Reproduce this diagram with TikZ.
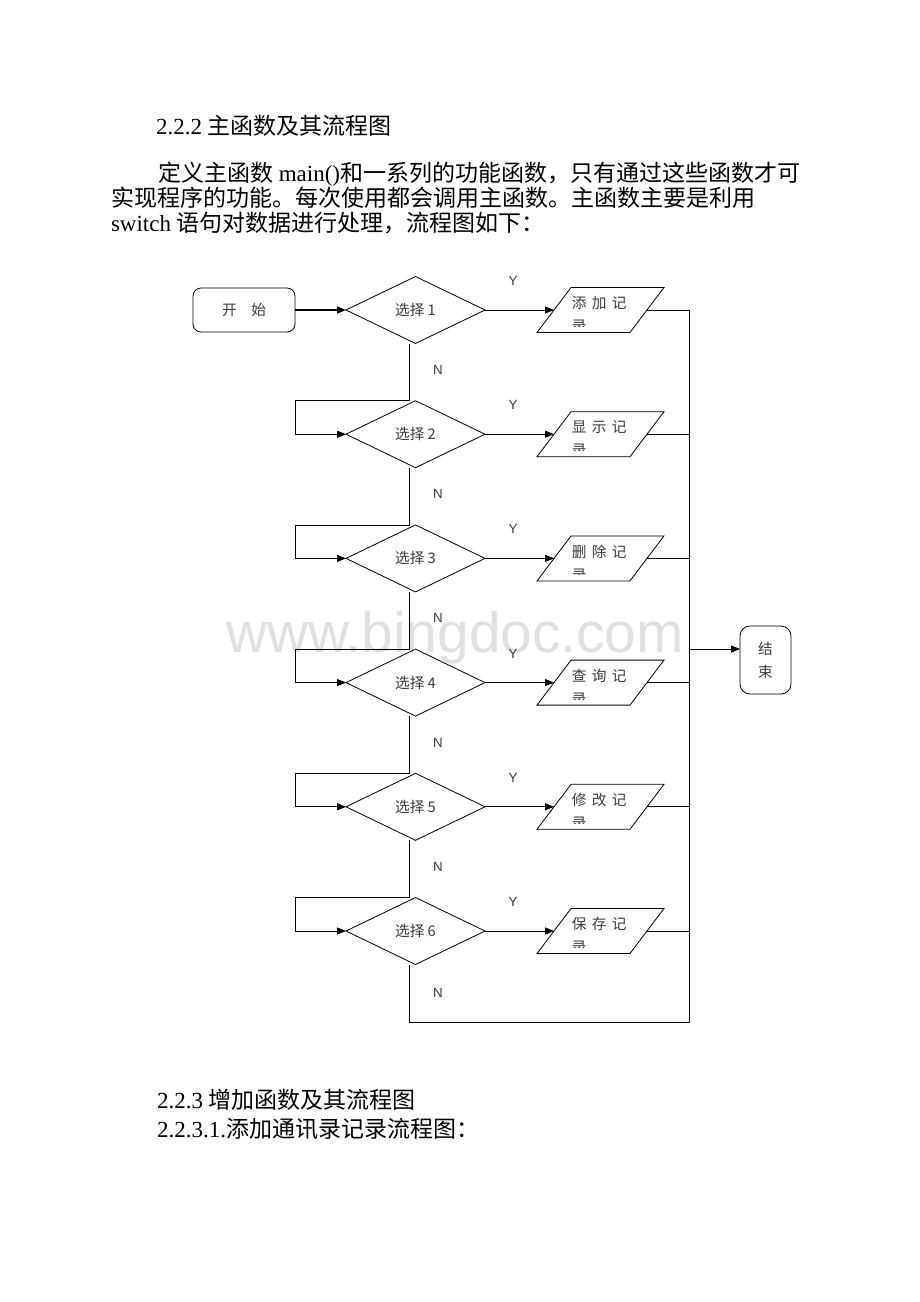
\documentclass[tikz,border=0pt]{standalone}
\usepackage{fontspec}
\usepackage{xcolor}
\usepackage{tikz}
\usetikzlibrary{positioning}
\usetikzlibrary{shapes.geometric,arrows.meta}
\setmainfont{Liberation Serif}
\newfontfamily\cjk{Noto Sans CJK SC}
\newfontfamily\arial{Liberation Sans}
\definecolor{mygray}{RGB}{60,60,60}
\definecolor{mymark}{RGB}{224,224,224}
\newcommand{\gap}{\hspace{4pt}}

\begin{document}
\begin{tikzpicture}[x=0.75pt,y=-0.75pt,outer sep=0pt,line width=0.6pt,
startb/.style={
  draw,
  rounded corners=6pt,
  minimum width=76.5pt,
  minimum height=33pt,
  inner sep=0pt,
  align=center,
  font={\fontsize{11pt}{17.25pt}\cjk\color{mygray}}},
endb/.style={startb,rounded corners=7.5pt,minimum width=38.25pt,minimum height=51pt},
decb/.style={
  draw,
  diamond,
  minimum width=104.25pt,
  minimum height=50.25pt,
  inner sep=0pt,
  font={\fontsize{11pt}{13pt}\cjk\color{mygray}}},
recb/.style={
  draw,
  trapezium,
  trapezium left angle=60,
  trapezium right angle=120,
  trapezium stretches=true,
  minimum width=95.25pt,
  minimum height=33.75pt,
  inner sep=2pt},
rect/.style={anchor=base west,inner sep=0pt,font={\fontsize{11pt}{13pt}\cjk\color{mygray}}},
yn/.style={inner sep=0pt,font={\fontsize{10pt}{12pt}\arial\color{mygray}}},
arr/.style={-{Triangle[length=6.75pt,width=5.25pt]}},
para/.style={anchor=base west,inner sep=0pt,font=\fontsize{17.25pt}{23pt}\selectfont},
]
\fill[white] (0,0) rectangle (920,1302);
\useasboundingbox (0,0) rectangle (920,1302);
% watermark
\node[anchor=base west,inner sep=0pt,font={\fontsize{42.6pt}{48pt}\arial\color{mymark}}] (mark) at (226,652) {www.bingdoc.com};

\node[para] (h1) at (156,135) {2.2.2 {\cjk 主函数及其流程图}};
\node[para] (p1) at (158,181) {{\cjk 定义主函数} main(){\cjk 和一系列的功能函数，只有通过这些函数才可}};
\node[para] (p2) at (111,206) {{\cjk 实现程序的功能。每次使用都会调用主函数。主函数主要是利用}};
\node[para] (p3) at (111,231) {switch {\cjk 语句对数据进行处理，流程图如下：}};

\node[startb] (start) at (244,310) {开\hspace{11pt}始};
\node[decb, right=38.25pt of start] (d1) {选择 1};
\node[decb, below=42.9pt of d1] (d2) {选择 2};
\node[decb, below=42.9pt of d2] (d3) {选择 3};
\node[decb, below=42.9pt of d3] (d4) {选择 4};
\node[decb, below=42.9pt of d4] (d5) {选择 5};
\node[decb, below=42.9pt of d5] (d6) {选择 6};

\coordinate (rx) at (600.5,0);
\node[recb] (rec1) at (d1 -| rx) {};
\node[recb] (rec2) at (d2 -| rx) {};
\node[recb] (rec3) at (d3 -| rx) {};
\node[recb] (rec4) at (d4 -| rx) {};
\node[recb] (rec5) at (d5 -| rx) {};
\node[recb] (rec6) at (d6 -| rx) {};

\node[rect] (t1) at ([xshift=-21.4pt,yshift=1pt]rec1.center) {添\gap 加\gap 记};
\node[rect] (t2) at ([xshift=-21.4pt,yshift=1pt]rec2.center) {显\gap 示\gap 记};
\node[rect] (t3) at ([xshift=-21.4pt,yshift=1pt]rec3.center) {删\gap 除\gap 记};
\node[rect] (t4) at ([xshift=-21.4pt,yshift=1pt]rec4.center) {查\gap 询\gap 记};
\node[rect] (t5) at ([xshift=-21.4pt,yshift=1pt]rec5.center) {修\gap 改\gap 记};
\node[rect] (t6) at ([xshift=-21.4pt,yshift=1pt]rec6.center) {保\gap 存\gap 记};
% second line cut off by the box
\begin{scope}
\clip ([xshift=-30pt]rec1.center) rectangle ([xshift=30pt,yshift=-12.4pt]rec1.center)
      ([xshift=-30pt]rec2.center) rectangle ([xshift=30pt,yshift=-12.4pt]rec2.center)
      ([xshift=-30pt]rec3.center) rectangle ([xshift=30pt,yshift=-12.4pt]rec3.center)
      ([xshift=-30pt]rec4.center) rectangle ([xshift=30pt,yshift=-12.4pt]rec4.center)
      ([xshift=-30pt]rec5.center) rectangle ([xshift=30pt,yshift=-12.4pt]rec5.center)
      ([xshift=-30pt]rec6.center) rectangle ([xshift=30pt,yshift=-12.4pt]rec6.center);
\node[rect] (u1) at ([yshift=-17.25pt]t1.base west) {录};
\node[rect] (u2) at ([yshift=-17.25pt]t2.base west) {录};
\node[rect] (u3) at ([yshift=-17.25pt]t3.base west) {录};
\node[rect] (u4) at ([yshift=-17.25pt]t4.base west) {录};
\node[rect] (u5) at ([yshift=-17.25pt]t5.base west) {录};
\node[rect] (u6) at ([yshift=-17.25pt]t6.base west) {录};
\end{scope}

\node[endb] (end) at (765.5,660) {结\\束};

\node[yn] (y1) at ([xshift=73.1pt,yshift=21.75pt]d1.center) {Y};
\node[yn] (y2) at ([xshift=73.1pt,yshift=21.75pt]d2.center) {Y};
\node[yn] (y3) at ([xshift=73.1pt,yshift=21.75pt]d3.center) {Y};
\node[yn] (y4) at ([xshift=73.1pt,yshift=21.75pt]d4.center) {Y};
\node[yn] (y5) at ([xshift=73.1pt,yshift=21.75pt]d5.center) {Y};
\node[yn] (y6) at ([xshift=73.1pt,yshift=21.75pt]d6.center) {Y};
\node[yn] (n1) at ([xshift=16.9pt,yshift=-45pt]d1.center) {N};
\node[yn] (n2) at ([xshift=16.9pt,yshift=-45pt]d2.center) {N};
\node[yn] (n3) at ([xshift=16.9pt,yshift=-45pt]d3.center) {N};
\node[yn] (n4) at ([xshift=16.9pt,yshift=-45pt]d4.center) {N};
\node[yn] (n5) at ([xshift=16.9pt,yshift=-45pt]d5.center) {N};
\node[yn] (n6) at ([xshift=16.9pt,yshift=-46.5pt]d6.center) {N};

\coordinate (bt) at (689,310);
\coordinate (bb) at (689,1022);
\coordinate (be) at (689,649);

\draw[arr,line width=1.1pt] (start) -- (d1);
\draw[arr] (d1.east) -- (rec1.west);
\draw[arr] (d2.east) -- (rec2.west);
\draw[arr] (d3.east) -- (rec3.west);
\draw[arr] (d4.east) -- (rec4.west);
\draw[arr] (d5.east) -- (rec5.west);
\draw[arr] (d6.east) -- (rec6.west);

\draw[arr] ([xshift=-4.5pt]d1.south) |- (d2.north -| start.east) |- (d2.west);
\draw[arr] ([xshift=-4.5pt]d2.south) |- (d3.north -| start.east) |- (d3.west);
\draw[arr] ([xshift=-4.5pt]d3.south) |- (d4.north -| start.east) |- (d4.west);
\draw[arr] ([xshift=-4.5pt]d4.south) |- (d5.north -| start.east) |- (d5.west);
\draw[arr] ([xshift=-4.5pt]d5.south) |- (d6.north -| start.east) |- (d6.west);

\draw (rec1.east) -- (rec1.east -| bt);
\draw (rec2.east) -- (rec2.east -| bt);
\draw (rec3.east) -- (rec3.east -| bt);
\draw (rec4.east) -- (rec4.east -| bt);
\draw (rec5.east) -- (rec5.east -| bt);
\draw (rec6.east) -- (rec6.east -| bt);
\draw ([xshift=-4.5pt]d6.south) |- (bb) -- (bt);
\draw[arr] (be) -- (be -| end.west);

\node[para] (h2) at (157,1108) {2.2.3 {\cjk 增加函数及其流程图}};
\node[para] (h3) at (157,1137) {2.2.3.1.{\cjk 添加通讯录记录流程图：}};
\end{tikzpicture}
\end{document}
